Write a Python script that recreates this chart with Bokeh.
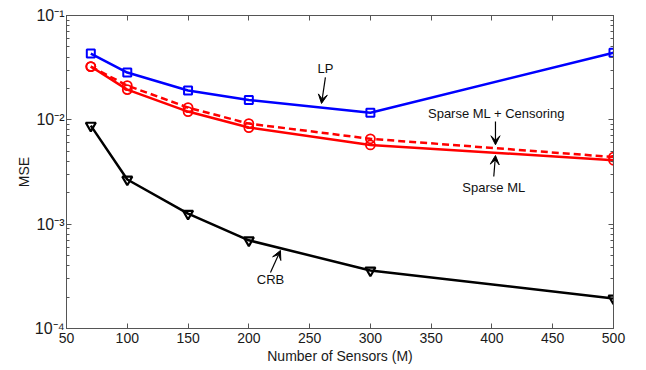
from bokeh.plotting import figure
from bokeh.models import (LinearAxis, LogAxis, FixedTicker, Range1d, Arrow, VeeHead,
                          Label, CustomJSTickFormatter, ColumnDataSource)
from bokeh.embed import file_html
from bokeh.resources import INLINE

# ---- data ----
sensors = [70, 100, 150, 200, 300, 500]
mse_lp = [0.0432, 0.0284, 0.0191, 0.0155, 0.0117, 0.044]
mse_sparse_ml = [0.0324, 0.0195, 0.0120, 0.00843, 0.00575, 0.0041]
mse_sparse_cens = [0.0324, 0.0213, 0.0131, 0.0092, 0.00658, 0.0044]
mse_crb = [0.0088, 0.00268, 0.00126, 0.0007, 0.00036, 0.000194]

x_ticks = [50, 100, 150, 200, 250, 300, 350, 400, 450, 500]
y_ticks = [1e-4, 1e-3, 1e-2, 1e-1]
y_tick_labels = ["10\u207b\u2074", "10\u207b\u00b3", "10\u207b\u00b2", "10\u207b\u00b9"]
y_minor = [m * d for d in [1e-4, 1e-3, 1e-2] for m in [2, 3, 4, 5, 6, 7, 8, 9]]

ann_text = ["LP", "Sparse ML + Censoring", "Sparse ML", "CRB"]
ann_text_x = [263, 403.7, 401.5, 217.8]
ann_text_y = [0.031, 0.01143, 0.00226, 0.000295]
arrow_x_start = [263, 402.9, 401.5, 217.8]
arrow_y_start = [0.0255, 0.00964, 0.00286, 0.000344]
arrow_x_end = [259.8, 402.9, 402.9, 226]
arrow_y_end = [0.01435, 0.00577, 0.00455, 0.00056]

FONT = "Liberation Sans"
AX = "#555555"

p = figure(width=646, height=370, x_range=Range1d(50, 500), y_range=Range1d(1e-4, 1e-1),
           y_axis_type="log", output_backend="svg", toolbar_location=None,
           min_border_left=66, min_border_right=33, min_border_top=15, min_border_bottom=42)
p.background_fill_color = "white"
p.border_fill_color = "white"
p.outline_line_color = AX
p.xgrid.grid_line_color = None
p.ygrid.grid_line_color = None

xa = p.xaxis[0]
xa.ticker = FixedTicker(ticks=x_ticks)
xa.axis_label = "Number of Sensors (M)"
ya = p.yaxis[0]
ya.ticker = FixedTicker(ticks=y_ticks, minor_ticks=y_minor)
ya.major_label_overrides = {t: l for t, l in zip(y_ticks, y_tick_labels)}
ya.axis_label = "MSE"

for ax in (xa, ya):
    ax.axis_line_color = AX
    ax.major_tick_line_color = AX
    ax.minor_tick_line_color = AX
    ax.major_tick_in = 5
    ax.major_tick_out = 0
    ax.minor_tick_in = 3
    ax.minor_tick_out = 0
    ax.major_label_text_font = FONT
    ax.major_label_text_font_size = "14px"
    ax.major_label_text_color = "#1a1a1a"
    ax.axis_label_text_font = FONT
    ax.axis_label_text_font_size = "14px"
    ax.axis_label_text_font_style = "normal"
    ax.axis_label_text_color = "#1a1a1a"
xa.minor_tick_line_color = None
xa.major_label_standoff = 4
xa.axis_label_standoff = 2
ya.major_label_text_font_size = "16px"
ya.major_label_standoff = 2
ya.axis_label_standoff = 0

blank = CustomJSTickFormatter(code="return ''")
top = LinearAxis(ticker=FixedTicker(ticks=x_ticks), formatter=blank)
right = LogAxis(ticker=FixedTicker(ticks=y_ticks, minor_ticks=y_minor), formatter=blank)
for ax in (top, right):
    ax.axis_line_color = AX
    ax.major_tick_line_color = AX
    ax.minor_tick_line_color = AX
    ax.major_tick_in = 5
    ax.major_tick_out = 0
    ax.minor_tick_in = 3
    ax.minor_tick_out = 0
    ax.major_label_standoff = 0
    ax.major_label_text_font_size = "1px"
top.minor_tick_line_color = None
p.add_layout(top, "above")
p.add_layout(right, "right")

src = ColumnDataSource(dict(x=sensors, lp=mse_lp, sml=mse_sparse_ml,
                            smc=mse_sparse_cens, crb=mse_crb))

p.line("x", "lp", source=src, color="#0000ff", line_width=2.5)
p.scatter("x", "lp", source=src, marker="square", size=8, line_color="#0000ff",
          fill_color=None, line_width=2)

p.line("x", "smc", source=src, color="#ff0000", line_width=2.5, line_dash="7 4")
p.scatter("x", "smc", source=src, marker="circle", size=9, line_color="#ff0000",
          fill_color=None, line_width=1.8)

p.line("x", "sml", source=src, color="#ff0000", line_width=2.5)
p.scatter("x", "sml", source=src, marker="circle", size=9, line_color="#ff0000",
          fill_color=None, line_width=1.8)

p.line("x", "crb", source=src, color="black", line_width=2.5)
p.scatter("x", "crb", source=src, marker="inverted_triangle", size=10, line_color="black",
          fill_color=None, line_width=2.2)

for t, tx, ty in zip(ann_text, ann_text_x, ann_text_y):
    p.add_layout(Label(x=tx, y=ty, text=t, text_font=FONT, text_font_size="13px",
                       text_align="center", text_baseline="middle", text_color="#111111"))
for xs, ys, xe, ye in zip(arrow_x_start, arrow_y_start, arrow_x_end, arrow_y_end):
    p.add_layout(Arrow(x_start=xs, y_start=ys, x_end=xe, y_end=ye, line_color="black",
                       line_width=1.2,
                       end=VeeHead(size=9, fill_color="black", line_color="black",
                                   line_width=1)))

open("out.html", "w").write(file_html(p, INLINE))
